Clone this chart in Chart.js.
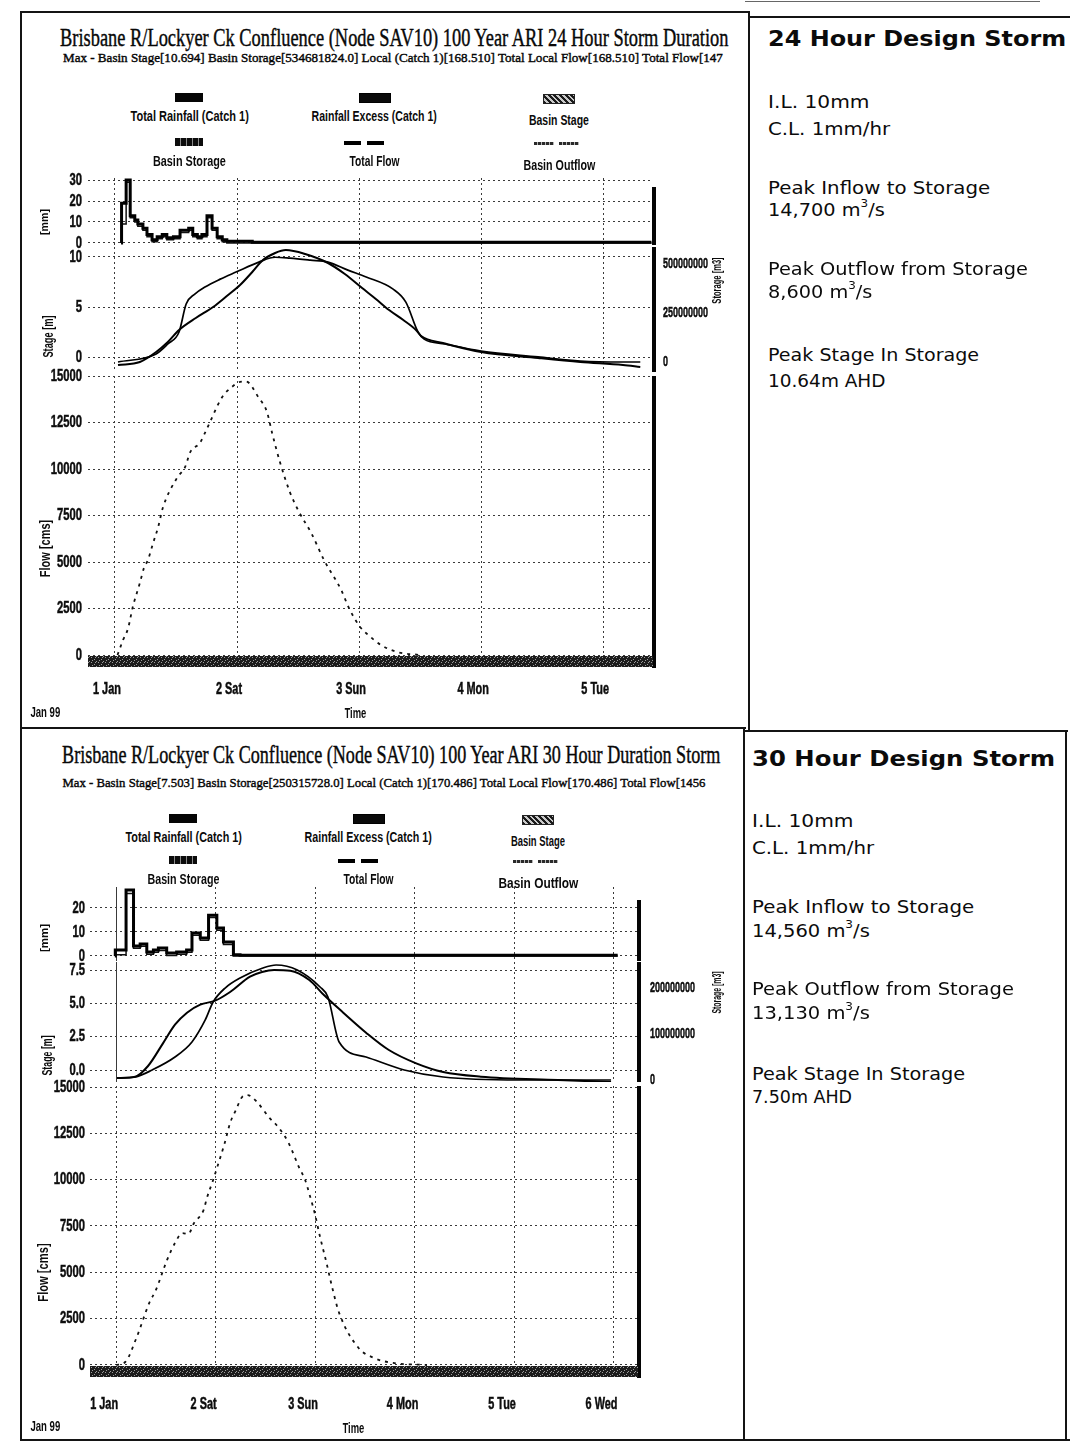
<!DOCTYPE html>
<html lang="en">
<head>
<meta charset="utf-8">
<title>Brisbane R/Lockyer Ck Confluence – 100 Year ARI Design Storms</title>
<script src="https://cdn.jsdelivr.net/npm/chart.js@4.4.1/dist/chart.umd.min.js"></script>
<style>
  html, body { margin: 0; padding: 0; background: #fff; }
  body { position: relative; width: 1070px; height: 1447px; overflow: hidden; color: #000; }
  .t { position: absolute; white-space: nowrap; line-height: 1; color: #0b0b0b; }
  .t sup { font-size: 62%; line-height: 0; position: relative; top: -0.15em; }
  .heavy { -webkit-text-stroke: 0.4px #000; }
  .rule { position: absolute; background: #141414; }
  .sw { position: absolute; }
  canvas { position: absolute; }
</style>
</head>
<body>
<script>
// ---------------- shared axis definitions ----------------
const flowTicks = [0, 2500, 5000, 7500, 10000, 12500, 15000];

// ---------------- 24 hour design storm ----------------
const days24 = [0, 24, 48, 72, 96];
const dayNames24 = ['1 Jan', '2 Sat', '3 Sun', '4 Mon', '5 Tue'];
const rainTicks24 = [0, 10, 20, 30];
const stageTicks24 = [0, 5, 10];
const storageTicks24 = [0, 250000000, 500000000];

// hyetograph steps: value holds from each start hour to the next
const rain24Hours  = [1.2, 1.3, 2.2, 3.0, 3.9, 4.5, 5.5, 6.3, 7.3, 8.3, 9.3, 10.2, 11.5, 12.8, 14.5, 15.3, 16.2, 17.1, 18.1, 19.1, 20.1, 21.1, 22.0, 27.0, 105.5];
const rain24Total  = [0, 19, 30, 13, 11, 9, 7, 4, 1.5, 3, 4, 2.5, 3, 6, 7, 4, 3, 4, 13, 7, 3, 1.5, 0.8, 0.3, 0.3];
const rain24Excess = [0, 9, 29, 12, 10, 8, 6, 3, 0.5, 2, 3, 1.5, 2, 5, 6, 3, 2, 3, 12, 6, 2, 0.5, 0, 0, 0];

const stage24Hours = [0.6, 4.9, 8.1, 10.4, 12.6, 15.9, 19.3, 22.0, 24.6, 27.0, 29.1, 31.5, 33.6, 37.4, 41.9, 45.2, 48.6, 51.3, 53.9, 56.7, 59.2, 60.2, 64.5, 72.0, 83.2, 91.5, 99.9, 103.3];
const stage24      = [-0.8, -0.5, 0.5, 1.5, 2.7, 3.9, 5.0, 6.1, 7.2, 8.5, 9.7, 10.4, 10.694, 10.3, 9.4, 8.3, 6.9, 5.8, 4.7, 3.7, 2.7, 2.1, 1.4, 0.5, -0.1, -0.5, -0.8, -1.0];

const storage24Hours = [0.6, 8.1, 10.4, 12.6, 14.0, 15.7, 17.7, 20.7, 23.8, 28.3, 31.5, 34.4, 38.4, 41.9, 45.8, 49.4, 54.7, 57.2, 59.6, 60.8, 64.9, 72.0, 83.2, 91.5, 99.9, 103.3];
const storage24      = [0, 41e6, 92e6, 153e6, 296e6, 347e6, 383e6, 423e6, 459e6, 510e6, 534681824, 530e6, 520e6, 510e6, 469e6, 434e6, 372e6, 306e6, 153e6, 117e6, 92e6, 56e6, 26e6, 5e6, 0, 0];

const flow24Hours = [0.5, 1.6, 2.6, 3.5, 4.9, 5.7, 6.5, 7.5, 8.5, 9.4, 12.2, 13.8, 14.8, 16.7, 17.7, 21.1, 23.0, 24.6, 25.8, 28.3, 29.9, 30.9, 32.5, 34.4, 36.2, 38.6, 41.1, 44.5, 46.0, 48.2, 49.8, 52.3, 55.5, 60.0];
const flow24Total = [0, 810, 1450, 2580, 3870, 4680, 5110, 6020, 6880, 7900, 9520, 10110, 10910, 11400, 11940, 13870, 14410, 14680, 14700, 13820, 13060, 11940, 10320, 8760, 7690, 6560, 5110, 3490, 2530, 1510, 1080, 540, 160, 0];

// ---------------- 30 hour design storm ----------------
const days30 = [0, 24, 48, 72, 96, 120];
const dayNames30 = ['1 Jan', '2 Sat', '3 Sun', '4 Mon', '5 Tue', '6 Wed'];
const rainTicks30 = [0, 10, 20];
const stageTicks30 = [0, 2.5, 5, 7.5];
const storageTicks30 = [0, 100000000, 200000000];

const rain30Hours  = [-0.3, -0.2, 2.4, 4.2, 5.8, 7.4, 9.0, 10.2, 12.2, 14.6, 17.0, 18.3, 20.3, 22.3, 24.3, 25.9, 28.3, 29.9, 121];
const rain30Total  = [0, 2.5, 27.5, 4.2, 5.0, 1.7, 2.5, 3.3, 1.2, 1.7, 2.5, 9.6, 7.5, 17, 11.7, 5.8, 0.5, 0.3, 0.3];
const rain30Excess = [0, 0.5, 26, 3.2, 4.0, 0.7, 1.5, 2.3, 0.2, 0.7, 1.5, 8.6, 6.5, 16, 10.7, 4.8, 0, 0, 0];

const stage30Hours = [0.2, 4.6, 7.7, 11.3, 14.2, 17.1, 20.3, 23.9, 27.5, 32.3, 35.2, 38.1, 42.0, 46.6, 50.2, 54.8, 60.3, 65.8, 72.4, 78.9, 88.0, 106.6, 119.4];
const stage30      = [-0.6, -0.5, 0.3, 2.0, 3.4, 4.3, 4.9, 5.2, 5.85, 7.0, 7.35, 7.503, 7.45, 6.75, 5.6, 4.3, 2.8, 1.5, 0.5, -0.15, -0.5, -0.75, -0.9];

const storage30Hours = [0.2, 4.6, 8.7, 14.2, 18.3, 21.5, 23.4, 26.3, 29.9, 35.4, 38.6, 43.7, 49.2, 51.1, 53.8, 60.3, 69.5, 78.9, 97.2, 119.4];
const storage30      = [4e6, 6.5e6, 21.8e6, 50e6, 82.7e6, 130.6e6, 169.7e6, 200.2e6, 222e6, 243.7e6, 250315728, 239.4e6, 202.4e6, 180.6e6, 82.7e6, 50e6, 21.8e6, 6.5e6, 0, 0];

const flow30Hours = [0, 2.2, 4.9, 8.0, 9.6, 12.3, 14.2, 16.0, 17.4, 18.8, 21.1, 21.9, 23.4, 24.4, 26.2, 27.5, 28.9, 30.4, 31.7, 34.0, 36.8, 39.1, 41.5, 44.1, 45.6, 46.9, 47.9, 49.2, 50.7, 52.1, 53.8, 58.5, 62.2, 66.8, 75.0];
const flow30Total = [0, 160, 1460, 3350, 4050, 5670, 6580, 7120, 7070, 7660, 8360, 9010, 9980, 10680, 11980, 13060, 13760, 14460, 14560, 14190, 13380, 12840, 12030, 10680, 9980, 9010, 8200, 6910, 5560, 4210, 2810, 920, 380, 110, 0];

// ---------------- page helpers ----------------
const SANS = '"Liberation Sans", Arial, sans-serif';
const SERIF = '"Liberation Serif", "Times New Roman", serif';
const VERD = '"DejaVu Sans", Verdana, sans-serif';

function put(html, o) {
  const el = document.createElement('div');
  el.className = 't' + (o.heavy ? ' heavy' : '');
  el.innerHTML = html;
  el.style.font = o.font;
  document.body.appendChild(el);
  const w = el.offsetWidth, h = el.offsetHeight;
  const sx = o.w ? o.w / w : 1;
  const left = o.anchor === 'left' ? o.x : o.x - w / 2;
  el.style.left = left + 'px';
  el.style.top = (o.y - h / 2) + 'px';
  el.style.transformOrigin = o.anchor === 'left' ? '0 50%' : '50% 50%';
  el.style.transform = (o.rot ? 'rotate(' + o.rot + 'deg) ' : '') + 'scaleX(' + sx.toFixed(4) + ')';
  return el;
}
function rule(x, y, w, h, color) {
  const d = document.createElement('div');
  d.className = 'rule';
  Object.assign(d.style, { left: x + 'px', top: y + 'px', width: w + 'px', height: h + 'px' });
  if (color) d.style.background = color;
  document.body.appendChild(d);
}
function swatch(x, y, w, h, bg, border) {
  const d = document.createElement('div');
  d.className = 'sw';
  Object.assign(d.style, { left: x + 'px', top: y + 'px', width: w + 'px', height: h + 'px', background: bg });
  if (border) d.style.border = border;
  document.body.appendChild(d);
}
const pts = (xs, ys) => xs.map((x, i) => ({ x, y: ys[i] }));

// ---------------- chart plugins ----------------
// Condensed tick labels drawn at the scale's own pixel positions
function tickText(items) {
  return {
    id: 'tickText',
    afterDraw(chart) {
      const c = chart.ctx;
      items.forEach(it => {
        const s = chart.scales[it.axis];
        c.save();
        c.fillStyle = '#0d0d0d';
        c.strokeStyle = '#0d0d0d';
        c.lineWidth = 0.5;
        c.font = it.font;
        c.textBaseline = 'middle';
        it.values.forEach((v, i) => {
          const px = s.getPixelForValue(v);
          let x, y;
          if (it.side === 'left') { x = s.right - it.pad; y = px; c.textAlign = 'right'; }
          else if (it.side === 'right') { x = s.left + it.pad; y = px; c.textAlign = 'left'; }
          else { x = px + (it.dx || 0); y = s.top + it.pad; c.textAlign = 'center'; }
          c.save();
          c.translate(x, y);
          c.scale(it.sx, 1);
          c.fillText(it.labels[i], 0, 0);
          c.strokeText(it.labels[i], 0, 0);
          c.restore();
        });
        c.restore();
      });
    }
  };
}

function bandPattern(ctx) {
  const off = document.createElement('canvas');
  off.width = 7; off.height = 5;
  const o = off.getContext('2d');
  o.fillStyle = '#1c1c1c'; o.fillRect(0, 0, 7, 5);
  o.fillStyle = '#9c9c9c';
  [[1, 1], [4, 3], [6, 0], [2, 4], [5, 1]].forEach(([x, y]) => o.fillRect(x, y, 1, 1));
  return ctx.createPattern(off, 'repeat');
}

// Heavy right-hand plot edge and the hatched base band of the flow panel
function frame(f) {
  return {
    id: 'frame',
    afterDatasetsDraw(chart) {
      const a = chart.chartArea, c = chart.ctx;
      c.save();
      c.fillStyle = '#050505';
      const t = a.top + (f.edgeTop || 0);
      c.fillRect(a.right - 1, t, 4, a.bottom - t + (f.edgeBottom || 0));
      if (f.band) {
        c.fillStyle = bandPattern(c);
        c.fillRect(a.left, a.bottom - 6, a.right - a.left, 11);
      }
      c.restore();
    }
  };
}

// ---------------- one panel = one Chart.js chart ----------------
function panel(p) {
  const cv = document.createElement('canvas');
  cv.width = p.width; cv.height = p.height;
  cv.style.left = p.left + 'px'; cv.style.top = p.top + 'px';
  document.body.appendChild(cv);

  const dashFor = (solidFirst, firstVal) => c =>
    (solidFirst && c.type === 'tick' && c.tick && c.tick.value === firstVal) ? [] : [2, 3];

  const scales = {
    x: {
      type: 'linear', min: p.xMin, max: p.xMax,
      afterBuildTicks: s => { s.ticks = p.days.map(v => ({ value: v })); },
      afterFit: s => { s.height = p.xHeight || 0; },
      ticks: { display: false },
      grid: { color: '#3a3a3a', lineWidth: 1, drawTicks: false },
      border: { display: false, dash: dashFor(p.solidFirstDay, p.days[0]) }
    },
    y: {
      type: 'linear', position: 'left', min: p.yMin, max: p.yMax,
      afterBuildTicks: s => { s.ticks = p.yTicks.map(v => ({ value: v })); },
      afterFit: s => { s.width = p.yWidth; },
      ticks: { display: false },
      grid: { color: '#3a3a3a', lineWidth: 1, drawTicks: false },
      border: { display: false, dash: [2, 3] }
    }
  };
  if (p.right) {
    scales.yS = {
      type: 'linear', position: 'right', min: p.right.min, max: p.right.max,
      afterBuildTicks: s => { s.ticks = p.right.ticks.map(v => ({ value: v })); },
      afterFit: s => { s.width = p.rightWidth; },
      ticks: { display: false },
      grid: { drawOnChartArea: false, drawTicks: false },
      border: { display: false }
    };
  }
  return new Chart(cv, {
    type: 'line',
    data: { datasets: p.datasets },
    options: {
      responsive: false, animation: false, events: [],
      layout: { padding: { top: 20, bottom: p.padBottom, left: 0, right: p.right ? 0 : p.rightWidth } },
      plugins: { legend: { display: false }, tooltip: { enabled: false } },
      elements: { point: { radius: 0 } },
      scales
    },
    plugins: [frame(p.frame || {}), tickText(p.labels)]
  });
}

const LBL = { font: 'bold 17px ' + SANS, sx: 0.66, pad: 6 };
const RLBL = { font: 'bold 15px ' + SANS, sx: 0.6 };
const XLBL = { font: 'bold 16px ' + SANS, sx: 0.68 };

function rainSets(h, total, excess) {
  return [
    { label: 'Total Rainfall (Catch 1)', data: pts(h, total), stepped: true, borderColor: '#000', borderWidth: 3 },
    { label: 'Rainfall Excess (Catch 1)', data: pts(h, excess), stepped: true, borderColor: '#111', borderWidth: 1.5 }
  ];
}
function stageSets(sh, sv, th, tv) {
  return [
    { label: 'Basin Stage', data: pts(sh, sv), yAxisID: 'y', borderColor: '#000', borderWidth: 2, cubicInterpolationMode: 'monotone' },
    { label: 'Basin Storage', data: pts(th, tv), yAxisID: 'yS', borderColor: '#000', borderWidth: 1.7, cubicInterpolationMode: 'monotone' }
  ];
}
function flowSets(h, v) {
  return [
    { label: 'Total Flow', data: pts(h, v), borderColor: '#111', borderWidth: 1.8, borderDash: [3, 5], cubicInterpolationMode: 'monotone' }
  ];
}

// ---------------- 24 hour storm panels ----------------
const G24 = { left: 20, width: 720, yWidth: 68, rightWidth: 87, xMin: -5.3, xMax: 105.8, days: days24 };

panel(Object.assign({}, G24, {
  top: 158, height: 107, padBottom: 20,
  yMin: -1, yMax: 31, yTicks: rainTicks24,
  datasets: rainSets(rain24Hours, rain24Total, rain24Excess),
  frame: { edgeTop: 9 },
  labels: [Object.assign({ axis: 'y', side: 'left', values: rainTicks24, labels: rainTicks24.map(String) }, LBL)]
}));
panel(Object.assign({}, G24, {
  top: 227, height: 165, padBottom: 20,
  yMin: -1.5, yMax: 11.0, yTicks: stageTicks24,
  right: { min: -51e6, max: 587e6, ticks: storageTicks24 },
  datasets: stageSets(stage24Hours, stage24, storage24Hours, storage24),
  labels: [
    Object.assign({ axis: 'y', side: 'left', values: stageTicks24, labels: stageTicks24.map(String) }, LBL),
    Object.assign({ axis: 'yS', side: 'right', pad: 10, values: storageTicks24, labels: storageTicks24.map(String) }, RLBL)
  ]
}));
panel(Object.assign({}, G24, {
  top: 356, height: 356, padBottom: 5, xHeight: 45,
  yMin: -376, yMax: 15000, yTicks: flowTicks,
  datasets: flowSets(flow24Hours, flow24Total),
  frame: { band: true, edgeBottom: 6 },
  labels: [
    Object.assign({ axis: 'y', side: 'left', values: flowTicks, labels: flowTicks.map(String) }, LBL),
    Object.assign({ axis: 'x', side: 'bottom', pad: 28, dx: -8, values: days24, labels: dayNames24 }, XLBL)
  ]
}));

// ---------------- 30 hour storm panels ----------------
const G30 = { left: 20, width: 720, yWidth: 70, rightWidth: 102, xMin: -6.3, xMax: 125.9, days: days30 };

panel(Object.assign({}, G30, {
  top: 867, height: 114, padBottom: 20, solidFirstDay: true,
  yMin: -2.1, yMax: 28.75, yTicks: rainTicks30,
  datasets: rainSets(rain30Hours, rain30Total, rain30Excess),
  frame: { edgeTop: 13 },
  labels: [Object.assign({ axis: 'y', side: 'left', values: rainTicks30, labels: rainTicks30.map(String) }, LBL, { pad: 5 })]
}));
panel(Object.assign({}, G30, {
  top: 942, height: 160, padBottom: 20, solidFirstDay: true,
  yMin: -0.9, yMax: 8.1, yTicks: stageTicks30,
  right: { min: -4.4e6, max: 256.8e6, ticks: storageTicks30 },
  datasets: stageSets(stage30Hours, stage30, storage30Hours, storage30),
  labels: [
    Object.assign({ axis: 'y', side: 'left', values: stageTicks30, labels: stageTicks30.map(v => v.toFixed(1)) }, LBL, { pad: 5 }),
    Object.assign({ axis: 'yS', side: 'right', pad: 12, values: storageTicks30, labels: storageTicks30.map(String) }, RLBL)
  ]
}));
panel(Object.assign({}, G30, {
  top: 1066, height: 356, padBottom: 5, xHeight: 45,
  yMin: -378, yMax: 15054, yTicks: flowTicks,
  datasets: flowSets(flow30Hours, flow30Total),
  frame: { band: true, edgeBottom: 6 },
  labels: [
    Object.assign({ axis: 'y', side: 'left', values: flowTicks, labels: flowTicks.map(String) }, LBL, { pad: 5 }),
    Object.assign({ axis: 'x', side: 'bottom', pad: 33, dx: -12, values: days30, labels: dayNames30 }, XLBL)
  ]
}));

// ---------------- table rules ----------------
rule(20, 11, 730, 2);
rule(750, 16, 320, 2);
rule(745, 1, 295, 1, '#666');
rule(20, 11, 2, 1430);
rule(748, 12, 2, 718);
rule(743, 729, 2, 712);
rule(20, 727, 726, 2);
rule(743, 730, 325, 2);
rule(20, 1439, 1050, 2);
rule(1065, 730, 2, 711);

// ---------------- chart headings ----------------
put('Brisbane R/Lockyer Ck Confluence (Node SAV10) 100 Year ARI 24 Hour Storm Duration',
    { x: 394, y: 38, font: '25px ' + SERIF, w: 668, heavy: true });
put('Max - Basin Stage[10.694] Basin Storage[534681824.0] Local (Catch 1)[168.510] Total Local Flow[168.510] Total Flow[147',
    { x: 393, y: 58, font: '13px ' + SERIF, w: 660, heavy: true });
put('Brisbane R/Lockyer Ck Confluence (Node SAV10) 100 Year ARI 30 Hour Duration Storm',
    { x: 391, y: 755, font: '25px ' + SERIF, w: 658, heavy: true });
put('Max - Basin Stage[7.503] Basin Storage[250315728.0] Local (Catch 1)[170.486] Total Local Flow[170.486] Total Flow[1456',
    { x: 384, y: 783, font: '13px ' + SERIF, w: 643, heavy: true });

// ---------------- legends ----------------
const LG = 'bold 15px ' + SANS;
function legend(o) {
  swatch(o.c1 - 14, o.r1 - 22, 28, 9, '#050505');
  swatch(o.c2 - 15, o.r1 - 22, 30, 8, '#0a0a0a', '1px solid #000');
  swatch(o.c3 - 16, o.r1 - 21, 30, 8, 'repeating-linear-gradient(45deg,#1a1a1a 0 2px,#c8c8c8 2px 4px)', '1px solid #222');
  swatch(o.c1 - 14, o.r2 - 22, 28, 8, 'repeating-linear-gradient(90deg,#0c0c0c 0 5px,#8a8a8a 5px 6px)');
  swatch(o.c2 - 30, o.r2 - 19, 17, 4, '#000');
  swatch(o.c2 - 7, o.r2 - 19, 17, 4, '#000');
  swatch(o.c3 - 25, o.r2 - 18, 20, 3, 'repeating-linear-gradient(90deg,#2a2a2a 0 3px,#b5b5b5 3px 4px)');
  swatch(o.c3 + 0, o.r2 - 18, 20, 3, 'repeating-linear-gradient(90deg,#2a2a2a 0 3px,#b5b5b5 3px 4px)');
  put('Total Rainfall (Catch 1)', { x: o.c1, y: o.r1, font: LG, w: o.w[0] });
  put('Rainfall Excess (Catch 1)', { x: o.c2, y: o.r1, font: LG, w: o.w[1] });
  put('Basin Stage', { x: o.c3, y: o.r1 + 4, font: LG, w: o.w[2] });
  put('Basin Storage', { x: o.c1, y: o.r2, font: LG, w: o.w[3] });
  put('Total Flow', { x: o.c2, y: o.r2, font: LG, w: o.w[4] });
  put('Basin Outflow', { x: o.c3, y: o.r2 + 4, font: LG, w: o.w[5] });
}
legend({ c1: 189, c2: 374, c3: 559, r1: 115, r2: 160, w: [118, 125, 60, 73, 50, 72] });
legend({ c1: 183, c2: 368, c3: 538, r1: 836, r2: 878, w: [116, 127, 54, 72, 50, 80] });

// ---------------- axis titles ----------------
const AT = 'bold 15px ' + SANS;
put('[mm]', { x: 44, y: 222, font: 'bold 11px ' + SANS, w: 26, rot: -90 });
put('Stage [m]', { x: 47, y: 336, font: AT, w: 42, rot: -90 });
put('Flow [cms]', { x: 44, y: 548, font: AT, w: 57, rot: -90 });
put('Storage [m3]', { x: 716, y: 280, font: 'bold 13px ' + SANS, w: 46, rot: -90 });
put('Jan 99', { x: 45, y: 711, font: AT, w: 30 });
put('Time', { x: 355, y: 712, font: AT, w: 22 });

put('[mm]', { x: 44, y: 938, font: 'bold 11px ' + SANS, w: 28, rot: -90 });
put('Stage [m]', { x: 46, y: 1055, font: AT, w: 40, rot: -90 });
put('Flow [cms]', { x: 42, y: 1272, font: AT, w: 58, rot: -90 });
put('Storage [m3]', { x: 716, y: 992, font: 'bold 13px ' + SANS, w: 42, rot: -90 });
put('Jan 99', { x: 45, y: 1425, font: AT, w: 30 });
put('Time', { x: 353, y: 1427, font: AT, w: 22 });

// ---------------- storm summaries ----------------
const H = 'bold 22px ' + VERD, B = '18px ' + VERD;
function summary(x, rows) {
  rows.forEach(r => put(r[0], { x, y: r[1], font: r[3] ? H : B, w: r[2], anchor: 'left' }));
}
summary(768, [
  ['24 Hour Design Storm', 38, 298, true],
  ['I.L. 10mm', 101, 101],
  ['C.L. 1mm/hr', 128, 122],
  ['Peak Inflow to Storage', 187, 222],
  ['14,700 m<sup>3</sup>/s', 209, 117],
  ['Peak Outflow from Storage', 268, 260],
  ['8,600 m<sup>3</sup>/s', 291, 104],
  ['Peak Stage In Storage', 354, 211],
  ['10.64m AHD', 380, 118]
]);
summary(752, [
  ['30 Hour Design Storm', 758, 303, true],
  ['I.L. 10mm', 820, 101],
  ['C.L. 1mm/hr', 847, 122],
  ['Peak Inflow to Storage', 906, 222],
  ['14,560 m<sup>3</sup>/s', 930, 118],
  ['Peak Outflow from Storage', 988, 262],
  ['13,130 m<sup>3</sup>/s', 1012, 118],
  ['Peak Stage In Storage', 1073, 213],
  ['7.50m AHD', 1096, 100]
]);
</script>
</body>
</html>
